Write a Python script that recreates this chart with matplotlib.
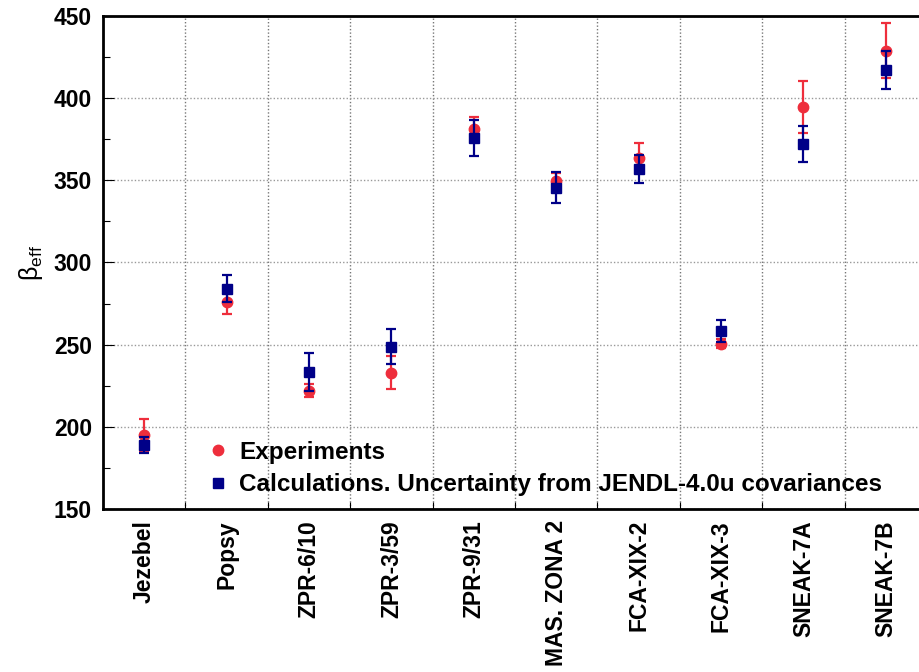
import matplotlib
matplotlib.use("Agg")
import matplotlib.pyplot as plt
import numpy as np
from matplotlib.lines import Line2D
from matplotlib.ticker import MultipleLocator

categories = ["Jezebel", "Popsy", "ZPR-6/10", "ZPR-3/59", "ZPR-9/31",
              "MAS. ZONA 2", "FCA-XIX-2", "FCA-XIX-3", "SNEAK-7A", "SNEAK-7B"]
exp_vals = [195, 276, 222, 233, 381, 349.5, 363.5, 250.5, 394.5, 429]
exp_errs = [9.5, 7.2, 4, 10, 7.7, 5, 9, 2.8, 16, 17]
calc_vals = [189, 284, 233.3, 248.8, 375.6, 345.5, 356.8, 258.2, 372.2, 417.1]
calc_errs = [4.7, 8.2, 11.4, 10.5, 11, 9.3, 8.5, 6.8, 11, 11.7]

plt.rcParams['font.family'] = ['Liberation Sans', 'DejaVu Sans']
plt.rcParams['mathtext.fontset'] = 'custom'
plt.rcParams['mathtext.rm'] = 'Liberation Sans'
plt.rcParams['mathtext.it'] = 'Liberation Sans'

red = '#EE2E3C'
navy = '#000088'
fs = 16.5

fig = plt.figure(figsize=(9.2, 6.72), dpi=100)
ax = fig.add_axes([103/920, 1-509/672, 824/920, (509-16)/672])

x = np.arange(len(categories))
ax.errorbar(x, exp_vals, yerr=exp_errs, fmt='o', color=red, ms=7.5,
            capsize=3.6, elinewidth=1.6, capthick=1.6, zorder=3)
ax.errorbar(x, calc_vals, yerr=calc_errs, fmt='s', color=navy, ms=7,
            capsize=3.6, elinewidth=1.6, capthick=1.6, zorder=4)

ax.set_xlim(-0.5, len(categories) - 0.5)
ax.set_ylim(150, 450)
ax.set_xticks(x)
ax.set_xticklabels(categories, rotation=90, fontsize=fs, fontweight='bold')
ax.set_xticks(x[:-1] + 0.5, minor=True)
ax.yaxis.set_major_locator(MultipleLocator(50))
ax.yaxis.set_minor_locator(MultipleLocator(25))
for lab in ax.get_yticklabels():
    lab.set_fontweight('bold')
    lab.set_fontsize(fs)

ax.tick_params(axis='x', which='major', length=0, pad=8)
ax.tick_params(axis='x', which='minor', direction='in', length=5, width=0.8)
ax.tick_params(axis='y', which='major', direction='in', length=8, width=0.8, pad=8)
ax.tick_params(axis='y', which='minor', direction='in', length=5, width=0.8)

ax.grid(True, axis='x', which='minor', linestyle=(0, (1, 1.5)), color='#777777', linewidth=1.0)
ax.grid(True, axis='y', which='major', linestyle=(0, (1, 1.5)), color='#999999', linewidth=1.0)
ax.set_axisbelow(True)

for s in ax.spines.values():
    s.set_linewidth(2)

ax.set_ylabel(r'$\mathrm{\beta_{eff}}$', fontsize=18, labelpad=6)

lfs = 17.5
handles = [Line2D([], [], marker='o', color=red, linestyle='none', ms=7.5),
           Line2D([], [], marker='s', color=navy, linestyle='none', ms=7)]
ax.legend(handles, ["Experiments", "Calculations. Uncertainty from JENDL-4.0u covariances"],
          loc='lower left', bbox_to_anchor=(0.125, 0.026), frameon=False,
          prop={'weight': 'bold', 'size': lfs}, handlelength=1.0, handletextpad=0.36,
          labelspacing=0.38, borderpad=0, borderaxespad=0)

fig.savefig('out.png', dpi=100)
